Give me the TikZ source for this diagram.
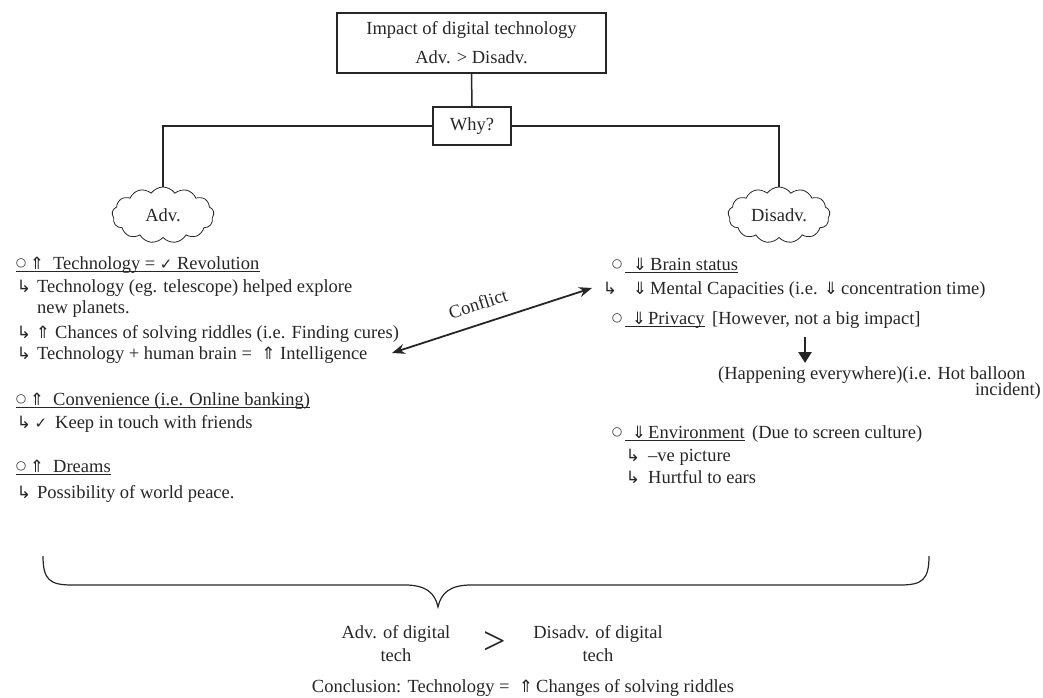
\documentclass[tikz,border=0pt]{standalone}
\usepackage{fontspec}
\setmainfont{Liberation Serif}
\newfontfamily\sym{DejaVu Sans}
\usetikzlibrary{shapes.symbols,arrows.meta}
\definecolor{ink}{gray}{0.15}
\newcommand\msz{\fontsize{18.5}{23}\selectfont}
\newcommand\UP{{\sym\fontsize{17}{17}\selectfont ⇑}}
\newcommand\DN{{\sym\fontsize{17}{17}\selectfont ⇓}}
\newcommand\CK{{\sym\fontsize{15}{15}\selectfont ✓}}
\newcommand\HK{{\sym\fontsize{17}{17}\selectfont ↳}}
\newcommand\CI{\raisebox{2.5pt}{\sym\fontsize{12}{12}\selectfont ○}}
\begin{document}
\begin{tikzpicture}[x=1pt,y=-1pt,
  every node/.style={text=ink},
  box/.style={draw=ink, line width=1.5pt, align=center, inner sep=0pt},
  conn/.style={draw=ink, line width=1.5pt},
  cloudn/.style={cloud, cloud puffs=13, cloud puff arc=110, aspect=2, draw=ink, line width=0.8pt,
     minimum width=102pt, minimum height=56pt, font=\msz, inner sep=0pt},
  txt/.style={anchor=base west, inner sep=0pt, font=\msz},
  txe/.style={anchor=base east, inner sep=0pt, font=\msz},
  sy/.style={anchor=base, inner sep=0pt},
  ul/.style={draw=ink, line width=0.9pt},
  ctext/.style={font=\msz, align=center, inner sep=0pt}]
\useasboundingbox (0,0) rectangle (1043,698);

% top structure
\node[box, minimum width=269pt, minimum height=60pt, font=\fontsize{18.5}{29}\selectfont] (top) at (471.5,43) {Impact of digital technology\\Adv. > Disadv.};
\node[box, minimum width=78pt, minimum height=38pt, font=\msz] (why) at (472,126) {Why?};
\node[cloudn] (adv) at (163,215) {Adv.};
\node[cloudn] (dis) at (779,215) {Disadv.};
\draw[conn] (top.south) -- (why.north);
\draw[conn] (why.west) -| (adv.north);
\draw[conn] (why.east) -| (dis.north);

% left list
\node[sy] (o1) at (21,269) {\CI};
\node[sy] (u1) at (37,269) {\UP};
\node[txt] (t1) at (53,269) {Technology = \CK\ Revolution};
\draw[ul] ([yshift=-2.5pt]o1.base west) -- ([yshift=-2.5pt]t1.base east);

\node[sy] (h2) at (24,292) {\HK};
\node[txt] (t2) at (37,292) {Technology (eg. telescope) helped explore};
\node[txt] (t3) at (37,313) {new planets.};

\node[sy] (h4) at (24,338) {\HK};
\node[sy] (u4) at (43,338) {\UP};
\node[txt] (t4) at (55,338) {Chances of solving riddles (i.e. Finding cures)};

\node[sy] (h5) at (24,359) {\HK};
\node[txt] (t5) at (37,359) {Technology + human brain = \ \UP\ Intelligence};

\node[sy] (o6) at (21,405) {\CI};
\node[sy] (u6) at (37,405) {\UP};
\node[txt] (t6) at (53,405) {Convenience (i.e. Online banking)};
\draw[ul] ([yshift=-2.5pt]o6.base west) -- ([yshift=-2.5pt]t6.base east);

\node[sy] (h7) at (24,428) {\HK};
\node[sy] (c7) at (41,428) {\CK};
\node[txt] (t7) at (55,428) {Keep in touch with friends};

\node[sy] (o8) at (21,472) {\CI};
\node[sy] (u8) at (37,472) {\UP};
\node[txt] (t8) at (53,472) {Dreams};
\draw[ul] ([yshift=-2.5pt]o8.base west) -- ([yshift=-2.5pt]t8.base east);

\node[sy] (h9) at (24,498) {\HK};
\node[txt] (t9) at (37,498) {Possibility of world peace.};

% right list
\node[sy] (o10) at (617,270) {\CI};
\node[sy] (d10) at (640,270) {\DN};
\node[txt] (t10) at (650,270) {Brain status};
\draw[ul] ([xshift=3pt,yshift=-2.5pt]o10.base east) -- ([yshift=-2.5pt]t10.base east);

\node[sy] (h11) at (610,294) {\HK};
\node[sy] (d11) at (640,294) {\DN};
\node[txt] (t11) at (650,294) {Mental Capacities (i.e. \DN\,concentration time)};

\node[sy] (o12) at (617,324) {\CI};
\node[sy] (d12) at (639,324) {\DN};
\node[txt] (t12) at (648,324) {Privacy};
\node[txt] (t12b) at (712,324) {[However, not a big impact]};
\draw[ul] ([xshift=3pt,yshift=-2.5pt]o12.base east) -- ([yshift=-2.5pt]t12.base east);

\coordinate (pA) at (805,337);
\coordinate (pB) at (805,363);
\draw[draw=ink, line width=2.5pt, -{Triangle[length=11pt,width=13pt]}] (pA) -- (pB);

\node[txt] (t13) at (718,379) {(Happening everywhere)(i.e. Hot balloon};
\node[txe] (t14) at (1041,395) {incident)};

\node[sy] (o15) at (617,438) {\CI};
\node[sy] (d15) at (639,438) {\DN};
\node[txt] (t15) at (648,438) {Environment};
\node[txt] (t15b) at (752,438) {(Due to screen culture)};
\draw[ul] ([xshift=3pt,yshift=-2.5pt]o15.base east) -- ([yshift=-2.5pt]t15.base east);

\node[sy] (h16) at (633,461) {\HK};
\node[txt] (t16) at (648,461) {–ve picture};
\node[sy] (h17) at (633,483) {\HK};
\node[txt] (t17) at (648,483) {Hurtful to ears};

% conflict arrow
\coordinate (cL) at (392,353);
\coordinate (cR) at (592,288);
\draw[draw=ink, line width=1.8pt, {Stealth[length=13pt,width=10pt]}-{Stealth[length=13pt,width=10pt]}]
  (cL) -- (cR);
\node[font=\msz, inner sep=0pt, rotate=18] (conf) at (478,304) {Conflict};

% brace
\draw[draw=ink, line width=1.2pt] (43,556) .. controls (43,580) and (50,585) .. (72,585)
  -- (405,585) .. controls (426,585) and (435,593) .. (438,607)
  .. controls (441,593) and (450,585) .. (471,585)
  -- (900,585) .. controls (922,585) and (929,580) .. (929,556);

% conclusion
\node[ctext] (ba) at (396,644) {Adv. of digital\\tech};
\node[inner sep=0pt, font=\fontsize{40}{40}\selectfont] (gt) at (495,643) {>};
\node[ctext] (bd) at (598,644) {Disadv. of digital\\tech};
\node[ctext] (concl) at (523,688) {Conclusion: Technology = \ \UP\,Changes of solving riddles};
\end{tikzpicture}
\end{document}
